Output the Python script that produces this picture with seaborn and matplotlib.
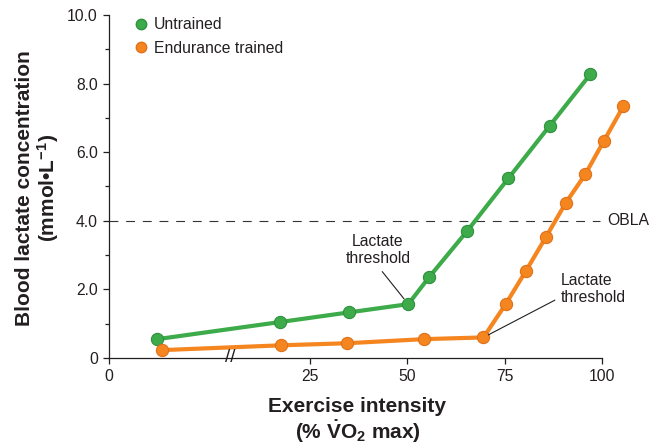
import matplotlib
matplotlib.use("Agg")
import matplotlib.pyplot as plt
from matplotlib.lines import Line2D
import seaborn as sns
import pandas as pd

# ---- data (x in axis units; the segment left of the break is compressed) ----
untrained_x = [-14.2, 17.4, 35.0, 50.2, 55.5, 65.3, 75.9, 86.5, 96.9]
untrained_y = [0.55, 1.05, 1.33, 1.57, 2.35, 3.70, 5.24, 6.77, 8.27]
trained_x = [-13.0, 17.6, 34.4, 54.3, 69.5, 75.2, 80.4, 85.5, 90.6, 95.6, 100.4, 105.4]
trained_y = [0.23, 0.37, 0.43, 0.55, 0.60, 1.57, 2.54, 3.52, 4.52, 5.35, 6.33, 7.34]
series_names = ["Untrained", "Endurance trained"]
obla_value = 4.0
x_tick_pos = [-26.6, 25, 50, 75, 100]
x_tick_labels = ["0", "25", "50", "75", "100"]
y_tick_pos = [0, 2, 4, 6, 8, 10]
y_tick_labels = ["0", "2.0", "4.0", "6.0", "8.0", "10.0"]
break_x = 4.5

GREEN = "#3dab49"
GREEN_EDGE = "#2f9040"
ORANGE = "#f5851f"
ORANGE_EDGE = "#e0711a"
TXT = "#231f20"

sns.set_style("ticks")
plt.rcParams["font.family"] = ["Liberation Sans", "DejaVu Sans"]
plt.rcParams["mathtext.fontset"] = "custom"
plt.rcParams["mathtext.rm"] = "Liberation Sans"
plt.rcParams["mathtext.bf"] = "Liberation Sans:bold"
plt.rcParams["mathtext.it"] = "Liberation Sans:italic"

fig = plt.figure(figsize=(6.57, 4.45), dpi=100)
ax = fig.add_axes([109 / 657, 87 / 445, 524.5 / 657, 343 / 445])

df = pd.concat([
    pd.DataFrame({"x": untrained_x, "y": untrained_y, "group": series_names[0]}),
    pd.DataFrame({"x": trained_x, "y": trained_y, "group": series_names[1]}),
])

# OBLA reference line
ax.hlines(obla_value, x_tick_pos[0], 99.5, colors="#333333", lw=0.8,
          linestyles=(0, (8, 7)), zorder=1)
ax.text(101.2, obla_value, "OBLA", fontsize=11.3, color=TXT, va="center", ha="left")

for name, col, edge in [(series_names[0], GREEN, GREEN_EDGE),
                        (series_names[1], ORANGE, ORANGE_EDGE)]:
    sub = df[df["group"] == name]
    sns.lineplot(data=sub, x="x", y="y", color=col, lw=3.0, marker="o",
                 markersize=8.8, markeredgecolor=edge, markeredgewidth=0.8,
                 sort=False, ax=ax, legend=False, clip_on=False, zorder=3)

ax.set_xlim(x_tick_pos[0], 108)
ax.set_ylim(0, 10)
ax.spines["bottom"].set_bounds(x_tick_pos[0], 100)
ax.spines["top"].set_visible(False)
ax.spines["right"].set_visible(False)
for s in ["left", "bottom"]:
    ax.spines[s].set_linewidth(0.9)
    ax.spines[s].set_color(TXT)

ax.set_xticks(x_tick_pos)
ax.set_xticklabels(x_tick_labels)
ax.set_yticks(y_tick_pos)
ax.set_yticklabels(y_tick_labels)
ax.set_yticks([1, 3, 5, 7, 9], minor=True)
ax.tick_params(axis="both", which="major", length=4, width=0.9, pad=4,
               labelsize=11.3, colors=TXT)
ax.tick_params(axis="y", which="minor", length=3, width=0.9, colors=TXT)

# axis break mark
ax.text(break_x, 0, "//", fontsize=13.5, ha="center", va="center", color=TXT,
        zorder=4)

# annotations
ax.annotate("Lactate\nthreshold", xy=(untrained_x[3], untrained_y[3]),
            xytext=(42.4, 3.15), ha="center", va="center", fontsize=11.3,
            color=TXT,
            arrowprops=dict(arrowstyle="-", color=TXT, lw=0.8, shrinkA=2,
                            shrinkB=5, relpos=(0.5, 0.0)), zorder=5)
ax.annotate("Lactate\nthreshold", xy=(trained_x[4], trained_y[4]),
            xytext=(89.3, 2.01), ha="left", va="center", fontsize=11.3,
            color=TXT,
            arrowprops=dict(arrowstyle="-", color=TXT, lw=0.8, shrinkA=2,
                            shrinkB=4, relpos=(0.0, 0.25)), zorder=5)

# legend
handles = [Line2D([], [], marker="o", ls="none", color=GREEN,
                  markeredgecolor=GREEN_EDGE, markersize=7.5),
           Line2D([], [], marker="o", ls="none", color=ORANGE,
                  markeredgecolor=ORANGE_EDGE, markersize=7.5)]
leg = fig.legend(handles, series_names, loc="upper left",
                 bbox_to_anchor=(134.7 / 657, 1 - 17.0 / 445),
                 frameon=False, fontsize=11.3, handlelength=0.8,
                 handletextpad=0.4, labelspacing=0.55, borderpad=0,
                 borderaxespad=0)
for t in leg.get_texts():
    t.set_color(TXT)

# axis labels
ax.set_xlabel("Exercise intensity\n(% $\\mathbf{\\dot{V}O_2}$ max)",
              fontsize=15, fontweight="bold", color=TXT, linespacing=1.1)
ax.xaxis.label.set_va("top")
ax.xaxis.set_label_coords((357.5 - 109) / 524.5, -(397 - 358) / 343)
ax.set_ylabel("Blood lactate concentration\n(mmol\u2022L$^{\\mathbf{-1}}$)",
              fontsize=15, fontweight="bold", color=TXT, linespacing=1.05)
ax.yaxis.label.set_va("center")
ax.yaxis.set_label_coords((38 - 109) / 524.5, (358 - 188) / 343)

fig.savefig("out.png", dpi=100)
